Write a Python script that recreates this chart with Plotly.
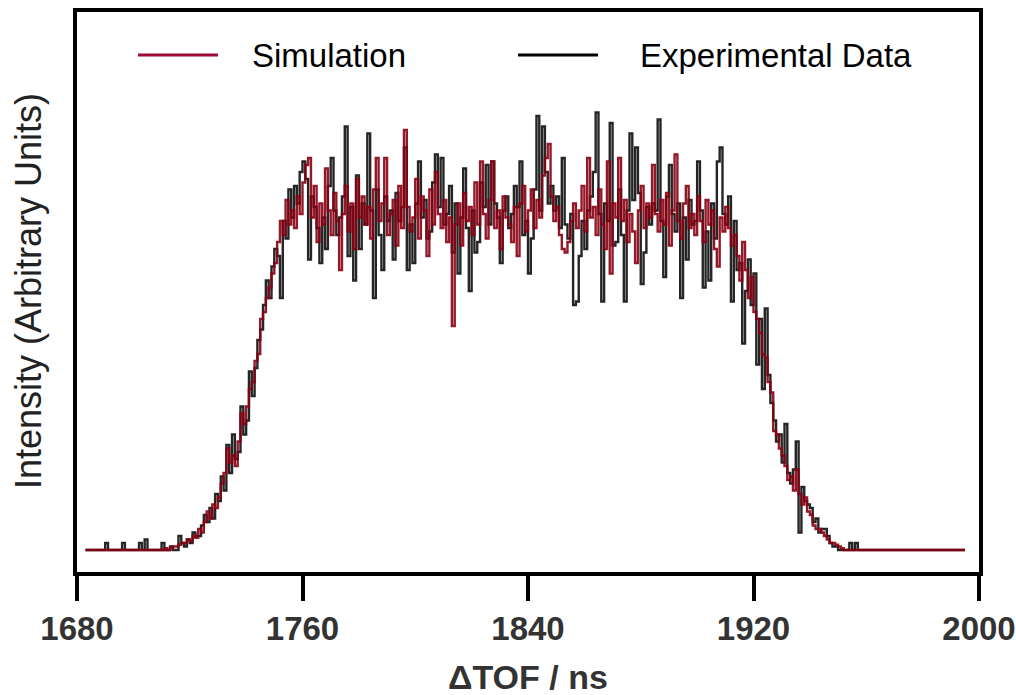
import plotly.graph_objects as go

# Time-of-flight bins (ns), 1 ns wide, starting at 1683 ns
tof_start = 1683

simulation = [
    0, 0, 0, 0, 0, 0, 0, 0, 0, 0,
    0, 0, 0, 0, 0, 0, 0, 0, 0, 0,
    0, 0, 0, 0, 0, 0, 0, 0, 0.5, 0,
    0.5, 1, 1, 1.5, 2, 2, 3, 2.5, 4, 3.5,
    6, 5, 8, 11, 9, 13, 12, 15, 19, 22,
    29, 25, 27, 24, 31, 39, 36, 41, 46, 48,
    54, 56, 66, 68, 72, 75, 79, 82, 88, 94,
    90, 100, 93, 97, 92, 101, 96, 105, 110, 112,
    95, 104, 88, 99, 93, 109, 97, 90, 102, 94,
    80, 96, 104, 91, 99, 86, 106, 95, 101, 93,
    98, 89, 103, 112, 94, 99, 112, 90, 96, 100,
    87, 104, 92, 120, 98, 91, 95, 106, 89, 101,
    97, 84, 103, 93, 108, 96, 92, 100, 88, 95,
    64, 93, 99, 87, 102, 94, 98, 90, 105, 93,
    111, 96, 89, 100, 111, 92, 97, 86, 101, 95,
    93, 88, 98, 84, 99, 104, 91, 97, 103, 92,
    100, 95, 107, 112, 116, 101, 94, 98, 90, 86,
    85, 88, 94, 99, 92, 97, 104, 91, 112, 95,
    98, 90, 103, 93, 86, 111, 79, 99, 95, 112,
    94, 100, 88, 96, 91, 82, 97, 104, 92, 99,
    95, 110, 96, 91, 100, 93, 102, 87, 97, 113,
    94, 89, 99, 104, 92, 96, 90, 101, 94, 88,
    100, 93, 97, 86, 81, 95, 91, 98, 92, 87,
    90, 84, 77, 88, 80, 72, 78, 68, 66, 62,
    56, 55, 48, 45, 34, 33, 29, 27, 24, 20,
    21, 17, 23, 16, 13, 15, 11, 10, 7, 6,
    6, 5, 4, 3, 2, 2, 1.5, 1, 0.5, 0,
    0, 0, 0, 0, 0, 0, 0, 0, 0, 0,
    0, 0, 0, 0, 0, 0, 0, 0, 0, 0,
    0, 0, 0, 0, 0, 0, 0, 0, 0, 0,
    0, 0, 0, 0, 0, 0, 0, 0, 0, 0,
    0, 0, 0,
]

experimental = [
    0, 0, 0, 0, 0, 0, 0, 2, 0, 0,
    0, 0, 0, 2, 0, 0, 0, 0, 0, 2,
    0, 3, 0, 0, 0, 0, 0, 2, 0, 0,
    1, 0, 0, 4, 2, 1, 3, 2, 5, 4,
    4, 7, 10, 8, 12, 9, 16, 14, 21, 17,
    30, 22, 33, 26, 28, 41, 33, 37, 51, 44,
    52, 60, 63, 70, 77, 72, 81, 86, 84, 72,
    94, 89, 103, 95, 104, 99, 108, 111, 106, 83,
    101, 98, 92, 82, 95, 86, 104, 112, 97, 90,
    95, 101, 121, 84, 98, 77, 107, 86, 99, 93,
    119, 97, 72, 103, 90, 80, 101, 94, 97, 83,
    102, 94, 98, 115, 80, 93, 82, 99, 111, 95,
    100, 89, 91, 105, 113, 98, 112, 93, 96, 104,
    85, 99, 79, 95, 109, 92, 74, 97, 85, 88,
    105, 98, 110, 93, 111, 99, 95, 82, 97, 101,
    92, 96, 104, 98, 111, 90, 94, 79, 89, 103,
    124, 97, 121, 108, 99, 104, 97, 101, 92, 112,
    93, 89, 96, 70, 71, 84, 94, 86, 97, 101,
    108, 125, 96, 71, 99, 94, 122, 87, 88, 103,
    90, 71, 97, 119, 100, 115, 102, 76, 85, 98,
    93, 99, 97, 123, 94, 78, 101, 110, 96, 91,
    99, 72, 95, 83, 100, 93, 94, 111, 97, 75,
    91, 77, 99, 89, 111, 115, 96, 93, 101, 71,
    94, 80, 82, 59, 74, 83, 70, 79, 53, 66,
    46, 69, 50, 42, 37, 31, 33, 25, 36, 22,
    19, 23, 31, 5, 18, 14, 13, 12, 8, 9,
    5, 6, 6, 4, 2, 1, 1, 0, 0, 0,
    0, 2, 0, 2, 0, 0, 0, 0, 0, 0,
    0, 0, 0, 0, 0, 0, 0, 0, 0, 0,
    0, 0, 0, 0, 0, 0, 0, 0, 0, 0,
    0, 0, 0, 0, 0, 0, 0, 0, 0, 0,
    0, 0, 0,
]

x_ticks = [1680, 1760, 1840, 1920, 2000]
series_names = ["Simulation", "Experimental Data"]

SIM_COLOR = "#8a0012"
SIM_LEGEND_COLOR = "#9e0a33"
EXP_COLOR = "#000000"
FONT = "Liberation Sans, Arial, sans-serif"

x_exp = [tof_start + i for i in range(len(experimental))]
x_sim = [tof_start + i for i in range(len(simulation))]

fig = go.Figure()
fig.add_trace(go.Scatter(x=x_exp, y=experimental, mode="lines", line_shape="hv",
                         line=dict(color=EXP_COLOR, width=2.4), name=series_names[1],
                         opacity=0.85, showlegend=False))
fig.add_trace(go.Scatter(x=x_sim, y=simulation, mode="lines", line_shape="hv",
                         line=dict(color=SIM_COLOR, width=2.4), opacity=0.9,
                         name=series_names[0], showlegend=False))

# Manual legend (long line samples)
legend_y = 0.923
for (x0, x1, tx, name, col) in [(0.0676, 0.1563, 0.1918, series_names[0], SIM_LEGEND_COLOR),
                                (0.4889, 0.5776, 0.6220, series_names[1], EXP_COLOR)]:
    fig.add_shape(type="line", xref="paper", yref="paper", x0=x0, x1=x1,
                  y0=legend_y, y1=legend_y, line=dict(color=col, width=3))
    fig.add_annotation(xref="paper", yref="paper", x=tx, y=legend_y, text=name,
                       showarrow=False, xanchor="left", yanchor="middle",
                       font=dict(family=FONT, size=33, color="#000000"))

fig.add_annotation(xref="paper", yref="paper", x=-0.053, y=0.502,
                   text="Intensity (Arbitrary Units)", textangle=-90, showarrow=False,
                   xanchor="center", yanchor="middle",
                   font=dict(family=FONT, size=36, color="#222222"))
fig.add_annotation(xref="paper", yref="paper", x=0.5, y=-0.188,
                   text="<b>ΔTOF / ns</b>", showarrow=False,
                   xanchor="center", yanchor="middle",
                   font=dict(family=FONT, size=34, color="#333333"))

fig.update_layout(
    width=1016, height=695,
    margin=dict(l=77, r=37, t=12, b=123),
    paper_bgcolor="white", plot_bgcolor="white",
    font=dict(family=FONT),
)
fig.update_xaxes(range=[1680, 2000], tickvals=x_ticks,
                 ticktext=[f"<b>{v}</b>" for v in x_ticks],
                 ticks="outside", ticklen=25, tickwidth=3.5, tickcolor="black",
                 tickfont=dict(family=FONT, size=33, color="#333333"),
                 showline=True, linewidth=3.5, linecolor="black", mirror=True,
                 showgrid=False, zeroline=False, automargin=False)
fig.update_yaxes(range=[-6.286, 153.71], showticklabels=False, ticks="",
                 showline=True, linewidth=3.5, linecolor="black", mirror=True,
                 showgrid=False, zeroline=False, automargin=False)

fig.write_html("out.html")
